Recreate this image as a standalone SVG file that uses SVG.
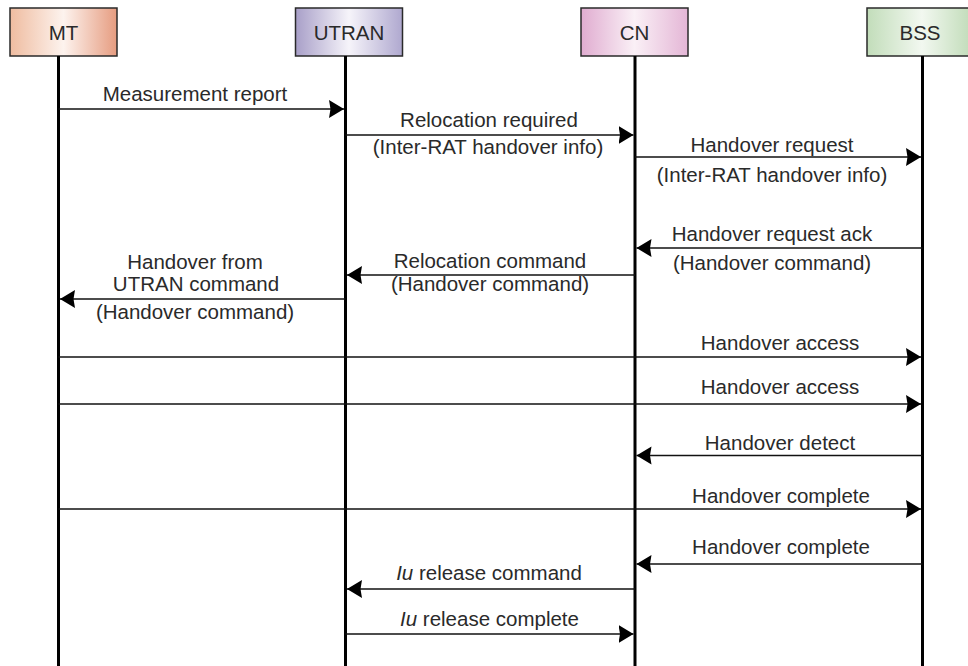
<svg xmlns="http://www.w3.org/2000/svg" width="968" height="666" viewBox="0 0 968 666">
  <defs>
    <linearGradient id="gMT" x1="0" y1="0" x2="1" y2="0">
      <stop offset="0" stop-color="#efbca0"/>
      <stop offset="0.5" stop-color="#fdf3ee"/>
      <stop offset="1" stop-color="#e69c80"/>
    </linearGradient>
    <linearGradient id="gUTRAN" x1="0" y1="0" x2="1" y2="0">
      <stop offset="0" stop-color="#a89fc8"/>
      <stop offset="0.5" stop-color="#f6f4fa"/>
      <stop offset="1" stop-color="#afa8cf"/>
    </linearGradient>
    <linearGradient id="gCN" x1="0" y1="0" x2="1" y2="0">
      <stop offset="0" stop-color="#e0acd0"/>
      <stop offset="0.5" stop-color="#faf0f6"/>
      <stop offset="1" stop-color="#e4b6d6"/>
    </linearGradient>
    <linearGradient id="gBSS" x1="0" y1="0" x2="1" y2="0">
      <stop offset="0" stop-color="#c2ddba"/>
      <stop offset="0.5" stop-color="#f2f8f0"/>
      <stop offset="1" stop-color="#bcd9b3"/>
    </linearGradient>
    <marker id="head" markerUnits="userSpaceOnUse" markerWidth="18" markerHeight="20" refX="15" refY="9" orient="auto">
      <path d="M0,0 L15,9 L0,18 L1.5,9 z" fill="#000"/>
    </marker>
  </defs>
  <style>
    .box { stroke: #2a2a2a; stroke-width: 1.5; }
    .life { stroke: #000; stroke-width: 3; }
    .msg { stroke: #111; stroke-width: 1.6; fill: none; marker-end: url(#head); }
    text { font-family: "Liberation Sans", Arial, sans-serif; font-size: 20.5px; fill: #2a2a2a; text-anchor: middle; }
  </style>
  <rect width="968" height="666" fill="#fff"/>

  <!-- participants -->
  <g id="MT">
    <rect class="box" x="10" y="8" width="107" height="48" fill="url(#gMT)"/>
    <text x="63.5" y="40">MT</text>
    <line class="life" x1="58.5" y1="56" x2="58.5" y2="666"/>
  </g>
  <g id="UTRAN">
    <rect class="box" x="295.5" y="8" width="107" height="48" fill="url(#gUTRAN)"/>
    <text x="349" y="40">UTRAN</text>
    <line class="life" x1="345.5" y1="56" x2="345.5" y2="666"/>
  </g>
  <g id="CN">
    <rect class="box" x="581" y="8" width="107" height="48" fill="url(#gCN)"/>
    <text x="634.5" y="40">CN</text>
    <line class="life" x1="635" y1="56" x2="635" y2="666"/>
  </g>
  <g id="BSS">
    <rect class="box" x="867" y="8" width="110" height="48" fill="url(#gBSS)"/>
    <text x="920" y="40">BSS</text>
    <line class="life" x1="922.5" y1="56" x2="922.5" y2="666"/>
  </g>

  <!-- messages -->
  <g id="connectors">
    <line class="msg" x1="58.5" y1="109" x2="344" y2="109"/>
    <line class="msg" x1="345.5" y1="135" x2="633.5" y2="135"/>
    <line class="msg" x1="635" y1="157" x2="921" y2="157"/>
    <line class="msg" x1="922.5" y1="248" x2="636.5" y2="248"/>
    <line class="msg" x1="635" y1="275" x2="347" y2="275"/>
    <line class="msg" x1="345.5" y1="299" x2="60" y2="299"/>
    <line class="msg" x1="58.5" y1="357" x2="921" y2="357"/>
    <line class="msg" x1="58.5" y1="404" x2="921" y2="404"/>
    <line class="msg" x1="922.5" y1="455.5" x2="636.5" y2="455.5"/>
    <line class="msg" x1="58.5" y1="509" x2="921" y2="509"/>
    <line class="msg" x1="922.5" y1="564" x2="636.5" y2="564"/>
    <line class="msg" x1="635" y1="589" x2="347" y2="589"/>
    <line class="msg" x1="345.5" y1="634" x2="633.5" y2="634"/>
  </g>

  <!-- message labels -->
  <g id="labels">
    <text x="195" y="101">Measurement report</text>
    <text x="489" y="127">Relocation required</text>
    <text x="488" y="154">(Inter-RAT handover info)</text>
    <text x="772" y="152">Handover request</text>
    <text x="772" y="182">(Inter-RAT handover info)</text>
    <text x="772" y="241">Handover request ack</text>
    <text x="772" y="270">(Handover command)</text>
    <text x="490" y="268">Relocation command</text>
    <text x="490" y="291">(Handover command)</text>
    <text x="195" y="269">Handover from</text>
    <text x="196" y="291">UTRAN command</text>
    <text x="195" y="319">(Handover command)</text>
    <text x="780" y="350">Handover access</text>
    <text x="780" y="394">Handover access</text>
    <text x="780" y="450">Handover detect</text>
    <text x="781" y="503">Handover complete</text>
    <text x="781" y="554">Handover complete</text>
    <text x="489" y="580"><tspan font-style="italic">Iu</tspan> release command</text>
    <text x="489.5" y="626"><tspan font-style="italic">Iu</tspan> release complete</text>
  </g>
</svg>
